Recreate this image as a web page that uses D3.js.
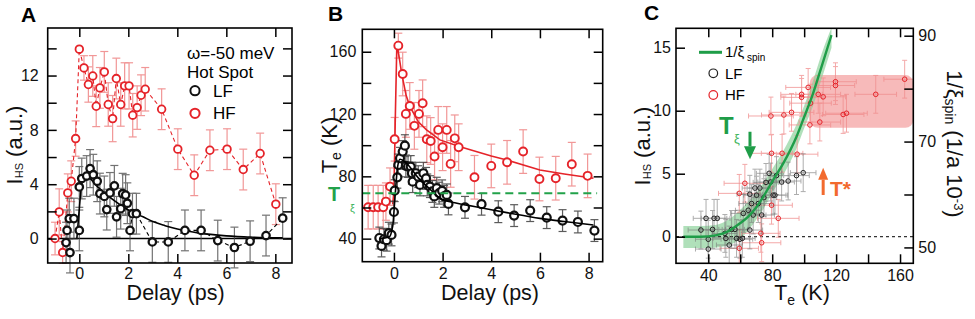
<!DOCTYPE html>
<html><head><meta charset="utf-8">
<script src="https://cdn.jsdelivr.net/npm/d3@7"></script>
<style>
body{margin:0;background:#fff;}
svg{display:block;font-family:"Liberation Sans",Arial,Helvetica,sans-serif;}
</style></head><body>
<svg id="chart" width="975" height="319"></svg>
<script>
// ---------------- DATA ----------------
// Panel A: I_HS vs delay
const A_HF_delay = [-0.99,-0.82,-0.68,-0.47,-0.33,-0.15,0.0,0.19,0.37,0.55,0.69,0.84,1.02,1.18,1.36,1.51,1.69,1.85,2.03,2.18,2.36,2.52,2.69,3.36,4.02,4.69,5.33,6.03,6.69,7.38,8.02];
const A_HF_val   = [0,1.96,-1.03,3.36,4.22,7.36,13.94,12.56,11.34,11.97,9.74,11.09,12.27,9.87,8.83,11.78,9.87,11.24,11.24,9.08,9.64,10.55,10.99,9.52,6.58,4.66,6.50,6.58,5.08,6.26,2.53];
const A_HF_err   = [1.2,1.7,0.8,1.4,1.5,1.3,0,0.9,1.3,1.5,1.5,1.5,1.5,1.6,1.7,1.5,1.6,1.7,1.7,1.6,1.6,1.5,1.6,1.5,1.5,1.5,1.5,1.5,1.5,1.5,1.5];
const A_LF_delay = [-0.54,-0.5,-0.41,-0.38,-0.22,0,0,0.1,0.3,0.44,0.57,0.73,0.84,1.02,1.12,1.25,1.43,1.52,1.69,1.77,1.89,1.96,2.07,2.17,2.33,2.98,3.63,4.31,4.97,5.65,6.33,6.97,7.62,8.3];
const A_LF_val   = [-0.3,0.6,1.47,-1.03,1.47,0.6,3.8,4.42,4.6,5.15,4.7,4.22,3.31,3.1,2.13,3.36,3.88,1.6,2.2,3.3,3.2,2.6,0.6,1.83,1.83,-0.25,-0.25,0.6,0.6,-0.15,-0.66,-0.2,0.22,1.5];
const A_LF_err   = [1.5,1.5,1.5,1.5,1.5,1.5,1.5,1.5,1.5,1.4,1.5,1.5,1.5,1.5,1.5,1.5,1.5,1.5,1.5,1.5,1.5,1.5,1.5,1.5,1.5,1.5,1.5,1.5,1.5,1.5,1.5,1.5,1.5,1.5];
const A_fit_delay = [-0.1,0,0.08,0.15,0.25,0.4,0.7,1.0,1.5,2.0,2.6,3.0,3.5,4.0,4.9,6.0,7.0,8.3];
const A_fit_val   = [0,2.2,3.8,4.5,4.7,4.5,3.9,3.4,2.7,2.1,1.6,1.25,0.95,0.7,0.4,0.2,0.1,0.05];
const A_xticks = [0,2,4,6,8];
const A_yticks = [0,2,4,6,8,10,12,14];
const A_ylabels = [0,4,8,12];

// Panel B: electronic temperature vs delay
const B_HF_delay = [-1.06,-0.85,-0.65,-0.44,-0.33,-0.16,0.03,0.18,0.36,0.49,0.65,0.84,1.03,1.18,1.35,1.51,1.67,1.82,2.0,2.17,2.33,2.5,2.66,3.31,4.0,4.65,5.31,5.98,6.65,7.31,7.96];
const B_HF_T     = [60.2,60.2,60.2,60.2,63.8,73.4,103.8,163.9,145.7,120.1,125.2,112.4,120.1,126.9,103.8,102.7,92.7,109.8,98.7,109.8,88,104.4,98.7,79.4,86.7,89,95.9,78.3,78.8,87.8,80.3];
const B_HF_err   = [14,14,14,14,12,12,14,8,14,15,15,15,15,15,15,15,15,15,15,15,15,15,15,14,14,14,14,14,14,14,14];
const B_LF_delay = [-0.6,-0.51,-0.41,-0.3,-0.21,-0.1,0,0.03,0.14,0.18,0.25,0.36,0.45,0.49,0.58,0.69,0.74,0.77,0.9,1.0,1.07,1.21,1.32,1.37,1.48,1.58,1.66,1.76,1.86,1.98,2.06,2.17,2.24,2.92,3.6,4.29,4.94,5.6,6.28,6.93,7.56,8.24];
const B_LF_T     = [40.4,35.3,39.6,39,43.5,42.4,57.1,70.8,79.4,87.3,91.6,95.9,99.7,86.7,86.3,86.3,82,76.6,82,79.8,74.5,82,78.7,74.5,73.4,70.3,67.1,72.4,69.2,70.7,67.1,68.1,62.3,60.1,62.1,57.3,54.8,58,53.5,51.6,50.7,45.2];
const B_LF_err   = 7;
const B_HF_fit_delay = [-0.05,0.0,0.06,0.12,0.2,0.32,0.5,0.66,1.0,1.34,1.89,2.72,4.0,4.64,6.0,7.0,8.2];
const B_HF_fit_T     = [62,70,120,165,158,146,132,124.7,115,109.8,103.4,99,93,90.5,84.1,81.5,78.8];
const B_LF_fit_delay = [-0.6,-0.2,-0.05,0.05,0.15,0.25,0.4,0.6,1.0,1.5,1.89,2.5,3.0,4.0,4.64,6.0,7.0,8.2];
const B_LF_fit_T     = [40,41,48,68,86,91,90,87,79,71.5,66,63,61.5,58.5,56.7,53,51,48.8];
const B_Txi = 69.1;
const B_xticks = [0,2,4,6,8];
const B_yticks = [40,60,80,100,120,140,160];
const B_ylabels = [40,80,120,160];

// Panel C: I_HS vs Te
const C_HF_T   = [162.9,144.8,119.6,119.6,102.5,98.4,98.4,108.8,111.9,104,126.5,124.4,109.8,103.6,92.1,87.3,79.2,79.6,86.2,95.6,62.9,59.4,83.8,79.6,72.9,73.4,59.4];
const C_HF_V   = [12.5,11.3,12.3,12.0,11.85,11.3,11.06,11.3,11.1,10.6,9.8,9.7,9.1,8.87,9.87,9.66,9.58,6.62,6.62,6.55,4.24,3.44,1.46,2.5,0.27,-0.48,-0.92];
const C_HF_Terr = [13,13,13,12,14,13,13,14,14,13,13,13,13,13,14,14,14,13,13,13,13,13,13,13,12,12,12];
const C_HF_Verr = 1.5;
const C_LF_T   = [99.4,95.2,90,85.9,82.7,78.1,76.1,72.3,69.2,79,66,70.2,80.6,81.7,74.8,71.3,67.1,61.9,65,68.1,73.4,66,56.7,54.6,57.7,59.8,61.3,53.1,50.4,51,42.7,35.4,38.6,45.6,43.6,40,40];
const C_LF_V   = [5.08,4.85,4.42,4.34,4.85,5.03,4.31,3.86,3.86,4.34,3.37,3.3,3.3,3.3,3.1,2.63,2.63,1.85,2.1,1.72,1.72,0.53,0.58,0.58,-0.13,-0.2,-0.13,-0.66,0.26,-0.13,0.58,0.53,1.46,1.46,1.46,-0.2,-0.98];
const C_LF_Terr = 8;
const C_LF_Verr = 1.5;
const C_fit_T  = [24.4,35,45.3,52,59.8,65,70.3,75,80.6,86.9,95.2,100,105.6,110.9,117.1];
const C_fit_V  = [0,0,0.13,0.4,1.06,1.6,2.38,3.3,4.5,5.82,7.94,9.5,11.38,13.5,16.0];
const C_band_lo = [-0.9,-0.9,-0.85,-0.7,-0.2,0.5,1.4,2.3,3.6,4.9,7.0,8.6,10.4,12.5,15.0];
const C_band_hi = [0.85,0.85,0.95,1.3,2.1,2.8,3.5,4.4,5.5,6.8,8.9,10.4,12.4,14.5,16.6];
const C_xticks = [40,60,80,100,120,140,160];
const C_xlabels = [40,80,120,160];
const C_yticks = [0,5,10,15];
const C_rticks = [50,60,70,80,90];
const C_rlabels = [50,70,90];
const C_Tstar_box = [103.5,168.3,8.65,12.83];   // T0,T1,v0,v1
const C_Txi_arrow = [66.1,8.33,6.14];            // T, from v, to v
const C_Tstar_arrow = [111.9,3.31,5.48];

// ---------------- STYLE ----------------
const RED = "#e52329", RED_ERR = "#f08c8c", BLK = "#111", GREEN = "#1f9d48", ORANGE = "#f26a2e";
const FONT = '"Liberation Sans", Arial, Helvetica, sans-serif';
const svg = d3.select("#chart");

function zip(a, b) { return a.map((d, i) => [d, b[i]]); }
function errAt(e, i) { return Array.isArray(e) ? e[i] : e; }

function axes(g, x, y, o) {
  const [x0, x1] = x.range(), [y0, y1] = y.range();
  const style = sel => {
    sel.attr("font-family", FONT);
    sel.select(".domain").remove();
    sel.selectAll("line").attr("stroke", "#000").attr("stroke-width", 1.5);
    sel.selectAll("text").attr("font-size", 16).attr("fill", "#111");
  };
  g.append("g").attr("transform", `translate(0,${y0})`)
    .call(d3.axisBottom(x).tickValues(o.xticks).tickFormat(o.xfmt).tickSizeInner(-9).tickSizeOuter(0).tickPadding(o.padB)).call(style);
  g.append("g").attr("transform", `translate(0,${y1})`)
    .call(d3.axisTop(x).tickValues(o.xticks).tickFormat(() => "").tickSizeInner(-9).tickSizeOuter(0)).call(style);
  g.append("g").attr("transform", `translate(${x0},0)`)
    .call(d3.axisLeft(y).tickValues(o.yticks).tickFormat(o.yfmt).tickSizeInner(-9).tickSizeOuter(0).tickPadding(o.padL)).call(style);
  if (o.right) {
    g.append("g").attr("transform", `translate(${x1},0)`)
      .call(d3.axisRight(o.right.scale).tickValues(o.right.ticks).tickFormat(o.right.fmt).tickSizeInner(-9).tickSizeOuter(0).tickPadding(o.right.pad)).call(style);
  } else {
    g.append("g").attr("transform", `translate(${x1},0)`)
      .call(d3.axisRight(y).tickValues(o.yticks).tickFormat(() => "").tickSizeInner(-9).tickSizeOuter(0)).call(style);
  }
  g.append("rect").attr("x", x0).attr("y", y1).attr("width", x1 - x0).attr("height", y0 - y1)
    .attr("fill", "none").attr("stroke", "#000").attr("stroke-width", 1.6);
}

function vErr(g, xs, ys, es, x, y, color, cap, sw, op) {
  const idx = d3.range(xs.length).filter(i => errAt(es, i) > 0);
  const gg = g.append("g").attr("stroke", color).attr("stroke-width", sw).attr("opacity", op);
  gg.selectAll("line.v").data(idx).join("line").attr("x1", i => x(xs[i])).attr("x2", i => x(xs[i]))
    .attr("y1", i => y(ys[i] - errAt(es, i))).attr("y2", i => y(ys[i] + errAt(es, i)));
  gg.selectAll("line.c1").data(idx).join("line").attr("x1", i => x(xs[i]) - cap).attr("x2", i => x(xs[i]) + cap)
    .attr("y1", i => y(ys[i] - errAt(es, i))).attr("y2", i => y(ys[i] - errAt(es, i)));
  gg.selectAll("line.c2").data(idx).join("line").attr("x1", i => x(xs[i]) - cap).attr("x2", i => x(xs[i]) + cap)
    .attr("y1", i => y(ys[i] + errAt(es, i))).attr("y2", i => y(ys[i] + errAt(es, i)));
}
function hErr(g, xs, ys, es, x, y, color, cap, sw, op) {
  const idx = d3.range(xs.length);
  const gg = g.append("g").attr("stroke", color).attr("stroke-width", sw).attr("opacity", op);
  gg.selectAll("line.h").data(idx).join("line").attr("y1", i => y(ys[i])).attr("y2", i => y(ys[i]))
    .attr("x1", i => x(xs[i] - errAt(es, i))).attr("x2", i => x(xs[i] + errAt(es, i)));
  [-1, 1].forEach(s => gg.selectAll("line.c" + (s + 1)).data(idx).join("line")
    .attr("x1", i => x(xs[i] + s * errAt(es, i))).attr("x2", i => x(xs[i] + s * errAt(es, i)))
    .attr("y1", i => y(ys[i]) - cap).attr("y2", i => y(ys[i]) + cap));
}
function dots(g, xs, ys, x, y, color, r, sw, fill) {
  g.append("g").selectAll("circle").data(d3.range(xs.length)).join("circle")
    .attr("cx", i => x(xs[i])).attr("cy", i => y(ys[i])).attr("r", r)
    .attr("fill", fill).attr("stroke", color).attr("stroke-width", sw);
}
function path(g, pts, x, y, color, sw, dash, curve) {
  g.append("path").datum(pts).attr("fill", "none").attr("stroke", color).attr("stroke-width", sw)
    .attr("stroke-dasharray", dash || null)
    .attr("d", d3.line().x(d => x(d[0])).y(d => y(d[1])).curve(curve || d3.curveLinear));
}
function label(g, x, y, parts, size, rot, anchor) {
  const t = g.append("text").attr("font-family", FONT).attr("font-size", size).attr("fill", "#111")
    .attr("text-anchor", anchor || "middle")
    .attr("transform", `translate(${x},${y}) rotate(${rot || 0})`);
  parts.forEach(p => t.append("tspan").text(p.t).attr("font-size", p.s || null).attr("dy", p.dy || null));
  return t;
}

// ---------------- PANEL A ----------------
const gA = svg.append("g");
const xA = d3.scaleLinear().domain([-1.29, 8.68]).range([47.7, 292]);
const yA = d3.scaleLinear().domain([-1.8, 15.5]).range([263, 28]);
path(gA, [[xA.domain()[0], 0], [xA.domain()[1], 0]], xA, yA, "#000", 1.4);
vErr(gA, A_HF_delay, A_HF_val, A_HF_err, xA, yA, RED_ERR, 4, 1.2, 0.9);
path(gA, zip(A_HF_delay, A_HF_val), xA, yA, RED, 1.1, "4,3");
vErr(gA, A_LF_delay, A_LF_val, A_LF_err, xA, yA, "#444", 4, 1.2, 0.75);
path(gA, zip(A_LF_delay, A_LF_val).slice(22), xA, yA, "#000", 1.1, "4,3");
path(gA, zip(A_fit_delay, A_fit_val), xA, yA, "#000", 1.6, null, d3.curveMonotoneX);
dots(gA, A_HF_delay, A_HF_val, xA, yA, RED, 3.8, 1.8, "#fff");
dots(gA, A_LF_delay, A_LF_val, xA, yA, BLK, 3.7, 2.3, "#fff");
axes(gA, xA, yA, {xticks: A_xticks, xfmt: d3.format("d"), yticks: A_yticks,
  yfmt: d => A_ylabels.includes(d) ? d : "", padB: 4.5, padL: 9});
gA.append("text").attr("x", 21).attr("y", 21.5).attr("font-family", FONT).attr("font-weight", "bold").attr("font-size", 21).text("A");
label(gA, xA(3.93), 300, [{t: "Delay (ps)"}], 21.5);
label(gA, 22, 145, [{t: "I"}, {t: "HS", s: 11, dy: "1"}, {t: " (a.u.)", s: 22, dy: "-1"}], 22, -90);
gA.append("text").attr("x", 187).attr("y", 58.5).attr("font-family", FONT).attr("font-size", 17).text("ω=-50 meV");
gA.append("text").attr("x", 187).attr("y", 78.3).attr("font-family", FONT).attr("font-size", 17).text("Hot Spot");
gA.append("circle").attr("cx", 195).attr("cy", 90.7).attr("r", 4.6).attr("fill", "none").attr("stroke", BLK).attr("stroke-width", 2);
gA.append("circle").attr("cx", 195).attr("cy", 113.3).attr("r", 4.6).attr("fill", "none").attr("stroke", RED).attr("stroke-width", 2);
gA.append("text").attr("x", 213).attr("y", 96.7).attr("font-family", FONT).attr("font-size", 17).text("LF");
gA.append("text").attr("x", 213).attr("y", 119).attr("font-family", FONT).attr("font-size", 17).text("HF");

// ---------------- PANEL B ----------------
const gB = svg.append("g");
const xB = d3.scaleLinear().domain([-1.30, 8.58]).range([362.3, 602.7]);
const yB = d3.scaleLinear().domain([25.2, 174.4]).range([261.7, 29.3]);
vErr(gB, B_HF_delay, B_HF_T, B_HF_err, xB, yB, RED_ERR, 4, 1.2, 0.9);
path(gB, zip(B_HF_fit_delay, B_HF_fit_T), xB, yB, RED, 1.6);
dots(gB, B_HF_delay, B_HF_T, xB, yB, RED, 4, 1.9, "#fff");
vErr(gB, B_LF_delay, B_LF_T, B_LF_err, xB, yB, "#333", 4, 1.2, 0.8);
dots(gB, B_LF_delay, B_LF_T, xB, yB, BLK, 4, 2.2, "#fff");
path(gB, zip(B_LF_fit_delay, B_LF_fit_T), xB, yB, "#000", 1.6, null, d3.curveMonotoneX);
path(gB, [[xB.domain()[0], B_Txi], [8.35, B_Txi]], xB, yB, "#22a24a", 2, "8,5");
axes(gB, xB, yB, {xticks: B_xticks, xfmt: d3.format("d"), yticks: B_yticks,
  yfmt: d => B_ylabels.includes(d) ? d : "", padB: 6, padL: 6});
gB.append("text").attr("x", 328).attr("y", 20.7).attr("font-family", FONT).attr("font-weight", "bold").attr("font-size", 21).text("B");
label(gB, xB(3.95), 300, [{t: "Delay (ps)"}], 21.5);
label(gB, 337, 145, [{t: "T"}, {t: "e", s: 14, dy: "4"}, {t: " (K)", s: 22, dy: "-4"}], 22, -90);
gB.append("text").attr("x", 328).attr("y", yB(B_Txi) + 8).attr("font-family", FONT).attr("font-weight", "bold")
  .attr("font-size", 20).attr("fill", "#22a24a").text("T");
gB.append("text").attr("x", 350).attr("y", yB(B_Txi) + 19).attr("font-family", FONT)
  .attr("font-size", 11).attr("fill", "#3cb45a").text("ξ");

// ---------------- PANEL C ----------------
const gC = svg.append("g");
const xC = d3.scaleLinear().domain([19.8, 168.3]).range([676, 913.3]);
const yC = d3.scaleLinear().domain([-2.11, 16.54]).range([263.3, 28.3]);
const yR = d3.scaleLinear().domain([47.0, 91.4]).range([263.3, 28.3]);
const defs = svg.append("defs");
defs.append("clipPath").attr("id", "clipC").append("rect")
  .attr("x", 676).attr("y", 28.3).attr("width", 913.3 - 676).attr("height", 263.3 - 28.3);
const gCc = gC.append("g").attr("clip-path", "url(#clipC)");
gCc.append("rect").attr("x", xC(C_Tstar_box[0])).attr("y", yC(C_Tstar_box[3]))
  .attr("width", xC(C_Tstar_box[1]) - xC(C_Tstar_box[0])).attr("height", yC(C_Tstar_box[2]) - yC(C_Tstar_box[3]))
  .attr("rx", 8).attr("fill", "#f4a3a3").attr("opacity", 0.75);
gCc.append("path").datum(d3.range(C_fit_T.length)).attr("fill", "#8fd39c").attr("opacity", 0.7)
  .attr("d", d3.area().x(i => xC(C_fit_T[i])).y0(i => yC(C_band_lo[i])).y1(i => yC(C_band_hi[i])).curve(d3.curveMonotoneX));
path(gCc, [[xC.domain()[0], 0], [xC.domain()[1], 0]], xC, yC, "#000", 1, "3,3");
hErr(gCc, C_HF_T, C_HF_V, C_HF_Terr, xC, yC, RED_ERR, 2.5, 1, 0.75);
vErr(gCc, C_HF_T, C_HF_V, C_HF_Verr, xC, yC, RED_ERR, 2.5, 1, 0.75);
hErr(gCc, C_LF_T, C_LF_V, C_LF_Terr, xC, yC, "#777", 2.5, 1, 0.6);
vErr(gCc, C_LF_T, C_LF_V, C_LF_Verr, xC, yC, "#777", 2.5, 1, 0.6);
dots(gCc, C_HF_T, C_HF_V, xC, yC, RED, 2.3, 1, "none");
dots(gCc, C_LF_T, C_LF_V, xC, yC, "#222", 2.3, 1, "none");
path(gCc, zip(C_fit_T, C_fit_V), xC, yC, GREEN, 2.4, null, d3.curveMonotoneX);
axes(gC, xC, yC, {xticks: C_xticks, xfmt: d => C_xlabels.includes(d) ? d : "", yticks: C_yticks,
  yfmt: d3.format("d"), padB: 6, padL: 5,
  right: {scale: yR, ticks: C_rticks, fmt: d => C_rlabels.includes(d) ? d : "", pad: 5}});
gC.append("text").attr("x", 644).attr("y", 20).attr("font-family", FONT).attr("font-weight", "bold").attr("font-size", 21).text("C");
label(gC, 802, 300, [{t: "T"}, {t: "e", s: 14, dy: "5"}, {t: " (K)", s: 21.5, dy: "-5"}], 21.5);
label(gC, 650, 146, [{t: "I"}, {t: "HS", s: 11, dy: "1"}, {t: " (a.u.)", s: 22, dy: "-1"}], 22, -90);
label(gC, 947, 144, [{t: "1/ξ"}, {t: "spin", s: 14, dy: "2"}, {t: " (1/a 10", s: 22, dy: "-2"}, {t: "-3", s: 13, dy: "-7"}, {t: ")", s: 22, dy: "7"}], 22, 90);
// legend
gC.append("line").attr("x1", 699).attr("x2", 722).attr("y1", 52.3).attr("y2", 52.3).attr("stroke", GREEN).attr("stroke-width", 3);
gC.append("text").attr("x", 725).attr("y", 57).attr("font-family", FONT).attr("font-size", 15).text("1/ξ")
  .append("tspan").attr("font-size", 10).attr("dy", 4).text(" spin");
gC.append("circle").attr("cx", 713.3).attr("cy", 73.3).attr("r", 4.3).attr("fill", "none").attr("stroke", "#222").attr("stroke-width", 1.2);
gC.append("circle").attr("cx", 713.3).attr("cy", 95).attr("r", 4.3).attr("fill", "none").attr("stroke", RED).attr("stroke-width", 1.2);
gC.append("text").attr("x", 725).attr("y", 78.5).attr("font-family", FONT).attr("font-size", 15).text("LF");
gC.append("text").attr("x", 725).attr("y", 100).attr("font-family", FONT).attr("font-size", 15).text("HF");
// arrows
function arrow(g, T, vFrom, vTo, color, hw, hl) {
  const X = xC(T), y1 = yC(vFrom), y2 = yC(vTo), dir = Math.sign(y2 - y1);
  g.append("line").attr("x1", X).attr("x2", X).attr("y1", y1).attr("y2", y2 - dir * hl)
    .attr("stroke", color).attr("stroke-width", 3);
  g.append("path").attr("fill", color)
    .attr("d", `M${X - hw},${y2 - dir * hl} L${X + hw},${y2 - dir * hl} L${X},${y2} Z`);
}
arrow(gC, C_Txi_arrow[0], C_Txi_arrow[1], C_Txi_arrow[2], GREEN, 6, 13);
arrow(gC, C_Tstar_arrow[0], C_Tstar_arrow[1], C_Tstar_arrow[2], ORANGE, 5, 12);
gC.append("text").attr("x", 719).attr("y", 133.5).attr("font-family", FONT).attr("font-weight", "bold")
  .attr("font-size", 24).attr("fill", GREEN).text("T");
gC.append("text").attr("x", 734).attr("y", 143).attr("font-family", FONT)
  .attr("font-size", 13).attr("fill", "#3cb45a").text("ξ");
gC.append("text").attr("x", 830).attr("y", 195.5).attr("font-family", FONT).attr("font-weight", "bold")
  .attr("font-size", 21).attr("fill", ORANGE).text("T*");
</script>
</body></html>
